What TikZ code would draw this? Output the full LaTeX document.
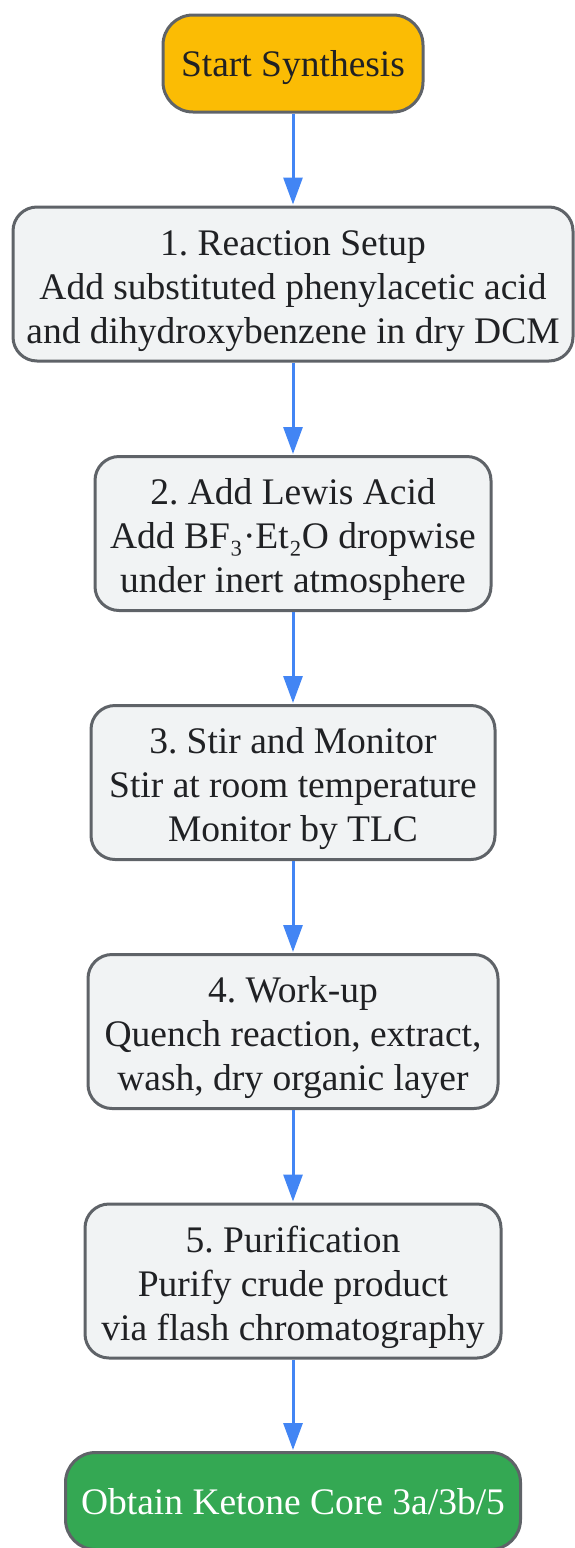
\documentclass[tikz,border=0pt]{standalone}
\usepackage{fontspec}
\setmainfont{Liberation Serif}
\usetikzlibrary{arrows.meta}
\definecolor{bordergray}{HTML}{5F6368}
\definecolor{stepfill}{HTML}{F1F3F4}
\definecolor{startfill}{HTML}{FBBC04}
\definecolor{endfill}{HTML}{34A853}
\definecolor{arrowblue}{HTML}{4285F4}
\definecolor{textdark}{HTML}{202124}
\tikzset{
  box/.style={draw=bordergray, line width=3pt, rounded corners=24pt, fill=stepfill,
    text=textdark, align=center, inner sep=0pt, minimum height=154pt,
    font=\fontsize{37.5}{44}\selectfont\frenchspacing, text height=127.65pt, text depth=9.35pt},
  pill/.style={box, rounded corners=30pt, minimum height=97pt, text height=35.65pt},
  flow/.style={draw=arrowblue, line width=3pt, -{Triangle[length=27pt,width=19pt]}, shorten >=1pt}
}
\begin{document}
\begin{tikzpicture}[x=1pt,y=-1pt]
\useasboundingbox (0,0) rectangle (574,1548);
\node[pill, fill=startfill, minimum width=260pt] (start) at (293,63.5) {Start Synthesis};
\node[box, minimum width=560pt] (s1) at (293,284) {1. Reaction Setup\\Add substituted phenylacetic acid\\and dihydroxybenzene in dry DCM};
\node[box, minimum width=396pt] (s2) at (293,533.5) {2. Add Lewis Acid\\Add BF₃·Et₂O dropwise\\under inert atmosphere};
\node[box, minimum width=404pt] (s3) at (293,782.5) {3. Stir and Monitor\\Stir at room temperature\\Monitor by TLC};
\node[box, minimum width=410pt] (s4) at (293,1031.5) {4. Work-up\\Quench reaction, extract,\\wash, dry organic layer};
\node[box, minimum width=416pt] (s5) at (293,1281) {5. Purification\\Purify crude product\\via flash chromatography};
\node[pill, fill=endfill, text=white, minimum width=455pt] (end) at (293,1501) {Obtain Ketone Core 3a/3b/5};
\draw[flow] (start) -- (s1);
\draw[flow] (s1) -- (s2);
\draw[flow] (s2) -- (s3);
\draw[flow] (s3) -- (s4);
\draw[flow] (s4) -- (s5);
\draw[flow] (s5) -- (end);
\end{tikzpicture}
\end{document}
